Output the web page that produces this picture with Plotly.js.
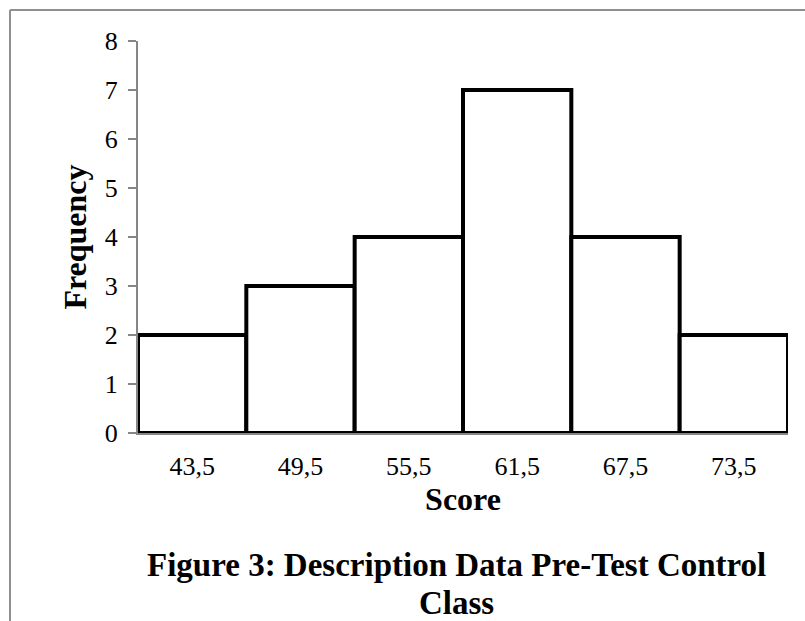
<!DOCTYPE html>
<html>
<head>
<meta charset="utf-8">
<script src="https://cdn.plot.ly/plotly-3.0.1.min.js"></script>
<style>
  html, body { margin: 0; padding: 0; background: #ffffff; }
  #chart { width: 805px; height: 621px; }
</style>
</head>
<body>
<div id="chart"></div>
<script>
// Score class midpoints and how many students fell in each class
const scoreClasses = ['43,5', '49,5', '55,5', '61,5', '67,5', '73,5'];
const frequencies = [2, 3, 4, 7, 4, 2];
const yTicks = [0, 1, 2, 3, 4, 5, 6, 7, 8];

const serif = '"Liberation Serif", "Times New Roman", serif';
const axisGray = '#868686';

// plot area geometry in pixels
const W = 805, H = 621;
const M = { l: 138, r: 17, t: 41, b: 188 };
const plotW = W - M.l - M.r;
const plotH = H - M.t - M.b;
const px = x => (x - M.l) / plotW;          // page x -> paper x
const py = y => (H - M.b - y) / plotH;      // page y -> paper y

const trace = {
  type: 'bar',
  x: scoreClasses,
  y: frequencies,
  width: 1,
  marker: { color: '#ffffff', line: { color: '#000000', width: 4 } },
  hoverinfo: 'x+y'
};

const layout = {
  width: W,
  height: H,
  margin: M,
  paper_bgcolor: '#ffffff',
  plot_bgcolor: '#ffffff',
  showlegend: false,
  bargap: 0,
  font: { family: serif, color: '#000000' },
  xaxis: {
    type: 'category',
    range: [-0.5, 5.5],
    showgrid: false,
    zeroline: false,
    showline: true,
    linecolor: axisGray,
    linewidth: 2,
    ticks: '',
    ticklabelstandoff: 9,
    tickfont: { family: serif, size: 26, color: '#000000' },
    title: { text: 'Score', standoff: 0, font: { family: serif, size: 32, weight: 'bold', color: '#000000' } },
    fixedrange: true
  },
  yaxis: {
    range: [0, 8],
    tickvals: yTicks,
    showgrid: false,
    zeroline: false,
    showline: true,
    linecolor: axisGray,
    linewidth: 2,
    ticks: 'outside',
    ticklen: 8,
    tickwidth: 2,
    tickcolor: axisGray,
    ticklabelstandoff: 5,
    tickfont: { family: serif, size: 26, color: '#000000' },
    title: { text: 'Frequency', standoff: 9, font: { family: serif, size: 32, weight: 'bold', color: '#000000' } },
    fixedrange: true
  },
  shapes: [
    // frame lines along the top and left edge of the figure
    { type: 'line', xref: 'paper', yref: 'paper', x0: px(10), x1: px(W), y0: py(10), y1: py(10),
      line: { color: '#8f8f8f', width: 2 } },
    { type: 'line', xref: 'paper', yref: 'paper', x0: px(10), x1: px(10), y0: py(10), y1: py(H),
      line: { color: '#8f8f8f', width: 2 } }
  ],
  annotations: [
    { xref: 'paper', yref: 'paper', x: px(456), y: py(565), xanchor: 'center', yanchor: 'middle',
      showarrow: false, text: 'Figure 3: Description Data Pre-Test Control',
      font: { family: serif, size: 33, weight: 'bold', color: '#000000' } },
    { xref: 'paper', yref: 'paper', x: px(456), y: py(603), xanchor: 'center', yanchor: 'middle',
      showarrow: false, text: 'Class',
      font: { family: serif, size: 33, weight: 'bold', color: '#000000' } }
  ]
};

Plotly.newPlot('chart', [trace], layout, { displayModeBar: false, staticPlot: true });
</script>
</body>
</html>
